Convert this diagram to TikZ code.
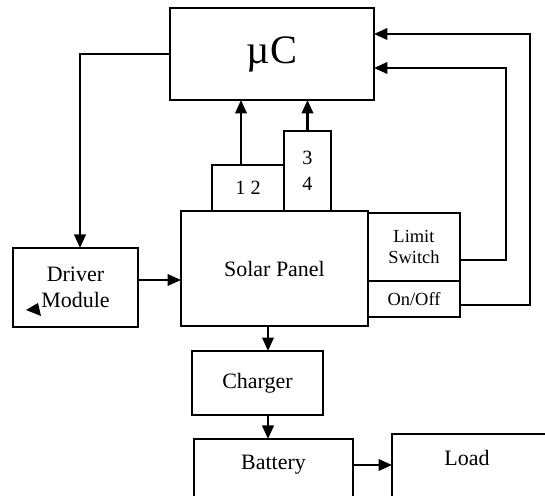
\documentclass[tikz,border=0pt]{standalone}
\usepackage{fontspec}
\setmainfont{Liberation Serif}
\usetikzlibrary{arrows.meta, positioning}

\begin{document}
\begin{tikzpicture}[x=0.02cm, y=-0.02cm,
        txt/.style={font=\fontsize{12.5}{15}\selectfont},
        blk/.style={rectangle, draw=black, line width=1.3pt, inner sep=1pt,
                    outer sep=0pt, align=center, txt},
        sml/.style={blk, font=\fontsize{10.5}{12}\selectfont},
        num/.style={blk, font=\fontsize{11.5}{14.7}\selectfont},
        arr/.style={-{Triangle[length=2.7mm,width=2.3mm]}, line width=1.3pt}]
      \useasboundingbox (0,0) rectangle (545,496);
      \clip (0,0) rectangle (545,496);
      % controller
      \node[blk, minimum width=4.08cm, minimum height=1.84cm,
            font=\fontsize{23}{26}\selectfont] (uc) at (272,54) {µC};
      % panel with its sensor outputs
      \node[blk, minimum width=3.74cm, minimum height=2.3cm] (sol) at (274.5,268.5) {Solar Panel};
      \node[num, minimum width=1.44cm, minimum height=0.92cm, anchor=south west] (s12) at (212,211) {1 2};
      \node[num, minimum width=0.94cm, minimum height=1.6cm, anchor=south west] (s34) at (s12.south east) {3\\4};
      \node[sml, minimum width=1.84cm, minimum height=1.36cm, anchor=north west] (lim) at (368,213) {Limit\\Switch};
      \node[sml, minimum width=1.84cm, minimum height=0.72cm, anchor=north] (onf) at (lim.south) {On/Off};
      \node[blk, minimum width=2.5cm, minimum height=1.58cm, anchor=north west] (drv) at (13,248) {Driver\\Module};
      % power path
      \node[blk, minimum width=2.62cm, minimum height=1.28cm] (chg) at (257.5,383) {Charger};
      \node[blk, minimum width=3.18cm, minimum height=2cm, anchor=north west,
            label={[name=battxt, txt, anchor=center, yshift=-0.52cm]north:Battery}] (bat) at (194,439) {};
      \node[blk, minimum width=3.4cm, minimum height=2cm, anchor=north west,
            label={[name=lodtxt, txt, anchor=center, xshift=-0.2cm, yshift=-0.48cm]north:Load}] (lod) at (392,434) {};
      % connections
      \draw[arr] (uc.west) -| (drv.north -| 80,0);
      \draw[arr] (drv.east |- 0,280) -- (sol.west |- 0,280);
      \draw[arr] (s12.north -| 241,0) -- (uc.south -| 241,0);
      \draw[arr] (s34.north) -- (uc.south -| s34.north);
      \draw[arr] (lim.east |- 0,260) -| (506,68) -- (uc.east |- 0,68);
      \draw[arr] (onf.east |- 0,305) -| (530,34) -- (uc.east |- 0,34);
      \draw[arr] (sol.south -| 268,0) -- (chg.north -| 268,0);
      \draw[arr] (chg.south -| 268,0) -- (bat.north -| 268,0);
      \draw[arr] (bat.east |- battxt) -- (lod.west |- battxt);
      \fill (26,310) -- (38,303) -- (41,316) -- cycle;
    \end{tikzpicture}
\end{document}
